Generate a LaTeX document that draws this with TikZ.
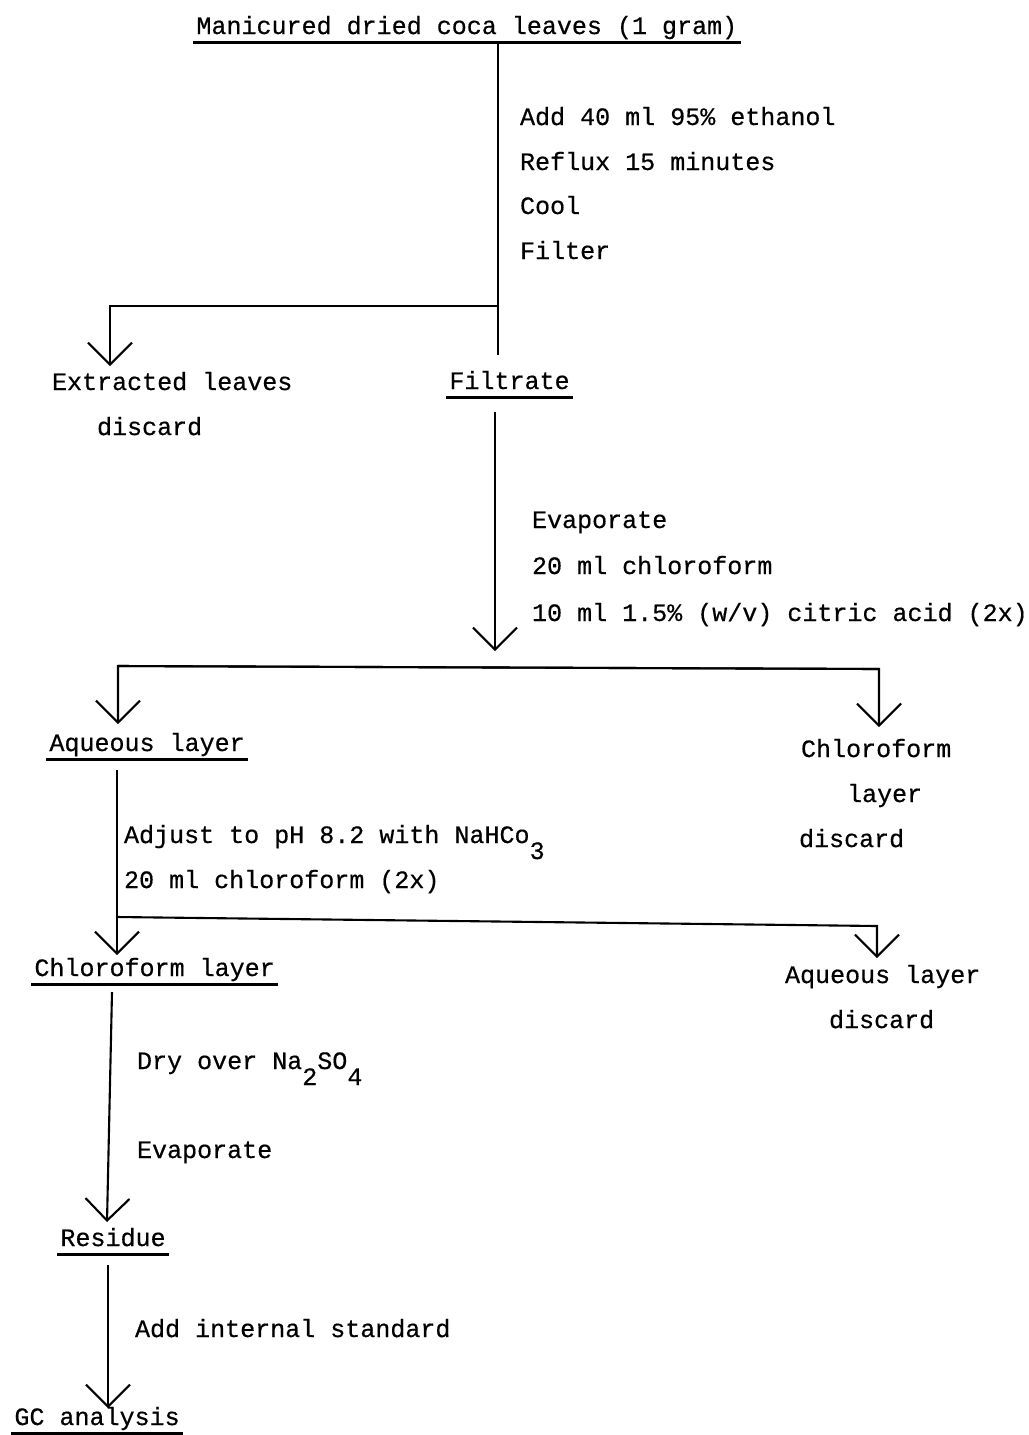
\documentclass[tikz,border=0pt]{standalone}
\usepackage{fontspec}
\setmainfont{Liberation Mono}[BoldFont=Liberation Mono, BoldFeatures={FakeBold=0.5}]
\usetikzlibrary{arrows.meta}

\newcommand{\low}[1]{\raisebox{-0.4cm}{#1}}

\begin{document}
\begin{tikzpicture}[x=0.025cm, y=-0.025cm, line width=1.5pt,
  txt/.style={anchor=base west, inner sep=0pt, font=\fontsize{17.8}{20}\selectfont\bfseries},
  ul/.style={txt, text depth=0.18cm, inner xsep=0.06cm},
  uline/.style={line width=2pt},
  arr/.style={-{Straight Barb[length=0.55cm, width=1.1cm]}}]
	\useasboundingbox (0,0) rectangle (1028,1435);

	% starting material and extraction
	\node[ul] (top) at (193,34) {Manicured dried coca leaves (1 gram)};
	\draw[uline] (top.south west) -- (top.south east);
	\node[txt] (add) at (519,125) {Add 40 ml 95\% ethanol};
	\node[txt] (reflux) at (519,170) {Reflux 15 minutes};
	\node[txt] (cool) at (519,214) {Cool};
	\node[txt] (filter) at (519,259) {Filter};
	\coordinate (j1) at (498,306);
	\coordinate (t1) at (498,355);
	\coordinate (xl) at (110,366);
	\draw (top.south -| t1) -- (t1);
	\draw[arr] (j1) -| (xl);
	\node[txt] (ext) at (51,390) {Extracted leaves};
	\node[txt] (extd) at (96,435) {discard};
	\node[ul] (filt) at (446,389) {Filtrate};
	\draw[uline] (filt.south west) -- (filt.south east);

	% citric acid wash
	\coordinate (f1) at (495,651);
	\draw[arr] (filt.south -| f1) ++(0,15) -- (f1);
	\node[txt] (evap) at (531,528) {Evaporate};
	\node[txt] (chl) at (531,574) {20 ml chloroform};
	\node[txt] (cit) at (531,621) {10 ml 1.5\% (w/v) citric acid (2x)};
	\coordinate (h1) at (118,666);
	\coordinate (h2) at (879,669);
	\coordinate (aqt) at (118,724);
	\coordinate (clt) at (879,727);
	\draw[arr] (h2) -- (h1) -- (aqt);
	\draw[arr] (h1) -- (h2) -- (clt);
	\node[ul] (aq) at (46,751) {Aqueous layer};
	\draw[uline] (aq.south west) -- (aq.south east);
	\node[txt] (cl1) at (800,757) {Chloroform};
	\node[txt] (cl2) at (846,802) {layer};
	\node[txt] (cl3) at (798,847) {discard};

	% basify and back extract
	\coordinate (a1) at (117,955);
	\coordinate (b1) at (117,917);
	\coordinate (b2) at (877,926);
	\coordinate (aq2t) at (877,958);
	\draw[arr] (aq.south -| a1) ++(0,11) -- (a1);
	\draw[arr] (b1) -- (b2) -- (aq2t);
	\node[txt] (adj) at (123,843) {Adjust to pH 8.2 with NaHCo\low{3}};
	\node[txt] (chl2) at (123,888) {20 ml chloroform (2x)};
	\node[ul] (cl) at (31,976) {Chloroform layer};
	\draw[uline] (cl.south west) -- (cl.south east);
	\node[txt] (aq2) at (784,983) {Aqueous layer};
	\node[txt] (aq2d) at (828,1028) {discard};

	% drying and analysis
	\coordinate (r1) at (107,1222);
	\draw[arr] (112,992) -- (r1);
	\node[txt] (dry) at (136,1069) {Dry over Na\low{2}SO\low{4}};
	\node[txt] (evap2) at (136,1158) {Evaporate};
	\node[ul] (res) at (57,1246) {Residue\ };
	\draw[uline] (res.south west) -- (res.south east);
	\coordinate (g1) at (108,1408);
	\draw[arr] (res.south -| g1) ++(0,11) -- (g1);
	\node[txt] (ais) at (134,1337) {Add internal standard};
	\node[ul] (gc) at (11,1425) {GC analysis};
	\draw[uline] (gc.south west) -- (gc.south east);
\end{tikzpicture}
\end{document}
